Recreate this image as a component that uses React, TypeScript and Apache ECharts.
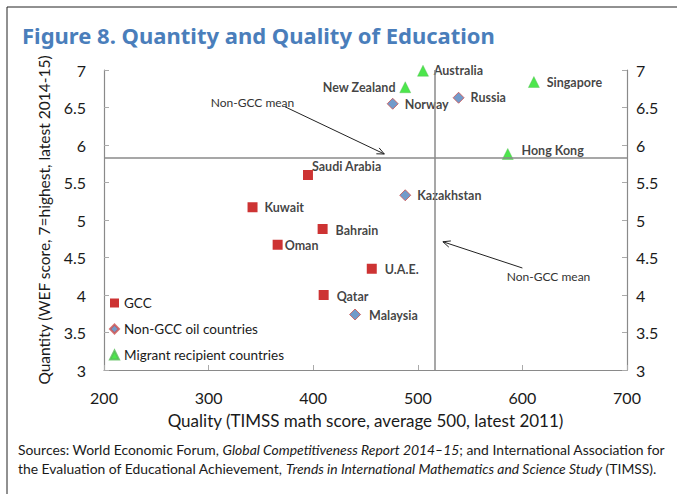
import React, { useEffect, useRef } from "react";
import * as echarts from "echarts";

const TITLE = "Figure 8. Quantity and Quality of Education";
const X_NAME = "Quality (TIMSS math score, average 500, latest 2011)";
const Y_NAME = "Quantity (WEF score, 7=highest, latest 2014-15)";

const GCC_NAMES = ["Saudi Arabia", "Kuwait", "Bahrain", "Oman", "U.A.E.", "Qatar"];
const GCC_X = [395, 342, 409, 366, 456, 410];
const GCC_Y = [5.6, 5.17, 4.88, 4.67, 4.35, 4.0];

const OIL_NAMES = ["Norway", "Russia", "Kazakhstan", "Malaysia"];
const OIL_X = [476, 539, 488, 440];
const OIL_Y = [6.55, 6.63, 5.33, 3.74];

const MIG_NAMES = ["Australia", "New Zealand", "Singapore", "Hong Kong"];
const MIG_X = [505, 488, 611, 586];
const MIG_Y = [6.99, 6.77, 6.84, 5.88];

const MEAN_X = 516;
const MEAN_Y = 5.83;

const X_MIN = 200, X_MAX = 700, X_STEP = 100;
const Y_MIN = 3, Y_MAX = 7, Y_STEP = 0.5;

const ANNOT_TEXT = "Non-GCC mean";
// annotation anchor points in data coords: text centre, arrow start, arrow end
const ANNOT_1 = { text: [342, 6.57], from: [373, 6.51], to: [468, 5.88] };
const ANNOT_2 = { text: [625, 4.25], from: [600, 4.36], to: [524, 4.71] };

const LABEL_POS: Record<string, any> = {
  "Saudi Arabia": { position: "right", offset: [-6, -9] },
  Kuwait: { position: "right", offset: [2, 0] },
  Bahrain: { position: "right", offset: [3, 1] },
  Oman: { position: "right", offset: [-3, 1] },
  "U.A.E.": { position: "right", offset: [3, 1] },
  Qatar: { position: "right", offset: [3, 1] },
  Norway: { position: "right", offset: [1, 1] },
  Russia: { position: "right", offset: [1, 0] },
  Kazakhstan: { position: "right", offset: [1, 0] },
  Malaysia: { position: "right", offset: [3, 1] },
  Australia: { position: "right", offset: [0, 0] },
  "New Zealand": { position: "left", offset: [1, 0] },
  Singapore: { position: "right", offset: [2, 0] },
  "Hong Kong": { position: "right", offset: [3, -4] },
};

const FONT = "Lato";

function build(names: string[], xs: number[], ys: number[]) {
  return names.map((n, i) => ({
    name: n,
    value: [xs[i], ys[i]],
    label: LABEL_POS[n],
  }));
}

export default function App() {
  const ref = useRef<HTMLDivElement>(null);
  useEffect(() => {
    document.body.style.margin = "0";
    const chart = echarts.init(ref.current!, null, { renderer: "svg" });
    const labelCommon = {
      show: true,
      formatter: (p: any) => p.name,
      color: "#111",
      fontWeight: "bold",
      fontSize: 12.5,
      fontFamily: FONT,
      distance: 5,
    };
    const axisLine = { show: true, lineStyle: { color: "#8a8a8a", width: 1.2 } };
    const yAxisCommon = {
      type: "value",
      min: Y_MIN,
      max: Y_MAX,
      interval: Y_STEP,
      splitLine: { show: false },
      axisLine,
      axisTick: { show: true, inside: true, length: 5, lineStyle: { color: "#aaa" } },
    };
    const yLabel = { fontSize: 16, color: "#1a1a1a", fontFamily: FONT };
    chart.setOption({
      animation: false,
      title: {
        text: TITLE,
        left: 17,
        top: 19,
        textStyle: { fontSize: 22, fontWeight: "bold", color: "#4A7EBB", fontFamily: "Noto Sans" },
      },
      grid: { left: 104, right: 50, top: 70, bottom: 124 },
      legend: {
        orient: "vertical",
        left: 104,
        top: 291,
        itemWidth: 9,
        itemHeight: 9,
        itemGap: 12,
        textStyle: { fontSize: 13.5, color: "#1a1a1a", fontFamily: FONT },
        data: ["GCC", "Non-GCC oil countries", "Migrant recipient countries"],
      },
      xAxis: {
        type: "value",
        min: X_MIN,
        max: X_MAX,
        interval: X_STEP,
        name: X_NAME,
        nameLocation: "middle",
        nameGap: 42,
        nameTextStyle: { fontSize: 17, color: "#1a1a1a", fontFamily: FONT },
        splitLine: { show: false },
        axisLine,
        axisTick: { show: true, inside: true, length: 5, lineStyle: { color: "#aaa" } },
        axisLabel: { fontSize: 16, color: "#1a1a1a", fontFamily: FONT, margin: 19 },
      },
      yAxis: [
        {
          ...yAxisCommon,
          position: "left",
          axisLabel: { ...yLabel, margin: 18 },
          name: Y_NAME,
          nameLocation: "middle",
          nameGap: 52,
          nameTextStyle: { fontSize: 15.5, color: "#1a1a1a", fontFamily: FONT },
        },
        { ...yAxisCommon, position: "right", axisLabel: { ...yLabel, margin: 9 } },
      ],
      series: [
        {
          name: "GCC",
          type: "scatter",
          symbol: "rect",
          symbolSize: 10,
          itemStyle: { color: "#C00000" },
          label: labelCommon,
          data: build(GCC_NAMES, GCC_X, GCC_Y),
          markLine: {
            silent: true,
            symbol: "none",
            label: { show: false },
            lineStyle: { color: "#8a8a8a", width: 1.5, type: "solid" },
            data: [{ xAxis: MEAN_X }, { yAxis: MEAN_Y }],
          },
        },
        {
          name: "Non-GCC oil countries",
          type: "scatter",
          symbol: "diamond",
          symbolSize: 11,
          itemStyle: { color: "#4F81BD", borderColor: "#D0504D", borderWidth: 1 },
          label: labelCommon,
          data: build(OIL_NAMES, OIL_X, OIL_Y),
        },
        {
          name: "Migrant recipient countries",
          type: "scatter",
          symbol: "triangle",
          symbolSize: 11,
          itemStyle: { color: "#1FE01F", borderColor: "#55bb55", borderWidth: 0.5 },
          label: labelCommon,
          data: build(MIG_NAMES, MIG_X, MIG_Y),
        },
      ],
    });

    const px = (v: number[]) => chart.convertToPixel({ xAxisIndex: 0, yAxisIndex: 0 }, v) as number[];
    const arrow = (a: any) => {
      const s = px(a.from), e = px(a.to), t = px(a.text);
      const ang = Math.atan2(s[1] - e[1], s[0] - e[0]);
      const L = 8, w = 0.42;
      const h1 = [e[0] + L * Math.cos(ang + w), e[1] + L * Math.sin(ang + w)];
      const h2 = [e[0] + L * Math.cos(ang - w), e[1] + L * Math.sin(ang - w)];
      return [
        { type: "line", shape: { x1: s[0], y1: s[1], x2: e[0], y2: e[1] }, style: { stroke: "#222", lineWidth: 1 } },
        { type: "polyline", shape: { points: [h1, e, h2] }, style: { stroke: "#222", lineWidth: 1, fill: "none" } },
        {
          type: "text",
          x: t[0],
          y: t[1],
          style: { text: ANNOT_TEXT, fill: "#333", fontSize: 12, fontFamily: FONT, align: "center", verticalAlign: "middle" },
        },
      ];
    };

    chart.setOption({
      graphic: [
        {
          type: "polyline",
          shape: { points: [[7, 494], [7, 7], [677, 7]] },
          style: { stroke: "#222", lineWidth: 1, fill: "none" },
        },
        ...arrow(ANNOT_1),
        ...arrow(ANNOT_2),
        {
          type: "text",
          left: 18,
          top: 440,
          style: {
            text: "Sources: World Economic Forum, {i|Global Competitiveness Report 2014–15}; and International Association for\nthe Evaluation of Educational Achievement, {i|Trends in International Mathematics and Science Study} (TIMSS).",
            fill: "#1a1a1a",
            fontSize: 13.9,
            fontFamily: FONT,
            lineHeight: 19,
            rich: { i: { fontStyle: "italic", fontSize: 13.9, fontFamily: FONT, fill: "#1a1a1a" } },
          },
        },
      ],
    });
    return () => chart.dispose();
  }, []);
  return <div ref={ref} style={{ width: 677, height: 494 }} />;
}
